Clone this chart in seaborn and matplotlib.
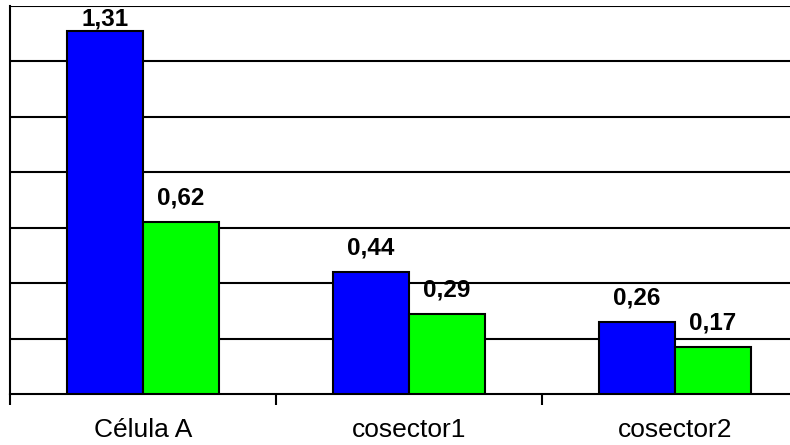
import pandas as pd
import seaborn as sns
import matplotlib.pyplot as plt

categories = ["Célula A", "cosector1", "cosector2"]
series_names = ["Serie 1", "Serie 2"]
serie1 = [1.31, 0.44, 0.26]
serie2 = [0.62, 0.29, 0.17]
value_labels = {"Serie 1": ["1,31", "0,44", "0,26"], "Serie 2": ["0,62", "0,29", "0,17"]}

sns.set_style("white")
plt.rcParams["font.family"] = ["Liberation Sans", "DejaVu Sans"]
plt.rcParams["text.color"] = "black"
plt.rcParams["xtick.color"] = "black"

df = pd.DataFrame({
    "categoria": categories * 2,
    "serie": [series_names[0]] * 3 + [series_names[1]] * 3,
    "valor": serie1 + serie2,
})

fig = plt.figure(figsize=(7.9, 4.45), dpi=100)
ax = fig.add_axes([10 / 790, 51 / 445, 798 / 790, 388 / 445])

sns.barplot(data=df, x="categoria", y="valor", hue="serie",
            palette=["#0000ff", "#00ff00"], width=0.572, gap=0,
            edgecolor="black", linewidth=1.5, saturation=1,
            legend=False, ax=ax, zorder=3)

ax.set_ylim(0, 1.4)
ax.set_xlim(-0.5, 2.5)

# value labels above the bars (the tallest one is squeezed under the top)
for cont, name in zip(ax.containers, series_names):
    for patch, txt in zip(cont.patches, value_labels[name]):
        top = patch.get_height()
        pad = 9 if top < 1.3 else 0
        ax.annotate(txt, (patch.get_x() + patch.get_width() / 2, top),
                    xytext=(0, pad), textcoords="offset points",
                    ha="center", va="bottom", fontsize=17.5,
                    fontweight="bold", color="black", zorder=5)

ax.set_yticks([0.2, 0.4, 0.6, 0.8, 1.0, 1.2, 1.4])
ax.set_yticklabels([])
ax.tick_params(axis="y", length=0)
ax.grid(axis="y", color="black", linewidth=1.5, zorder=0)
ax.set_axisbelow(True)

ax.set_xticks([0, 1, 2])
ax.set_xticklabels(categories, fontsize=19)
ax.set_xticks([-0.5, 0.5, 1.5, 2.5], minor=True)
ax.tick_params(axis="x", which="major", length=0, pad=17)
ax.tick_params(axis="x", which="minor", length=8, width=1.5, color="black",
               direction="out", bottom=True)
ax.set_xlabel("")
ax.set_ylabel("")

for side in ["left", "bottom"]:
    ax.spines[side].set_color("black")
    ax.spines[side].set_linewidth(1.5)
for side in ["top", "right"]:
    ax.spines[side].set_visible(False)

fig.savefig("out.png", dpi=100)
